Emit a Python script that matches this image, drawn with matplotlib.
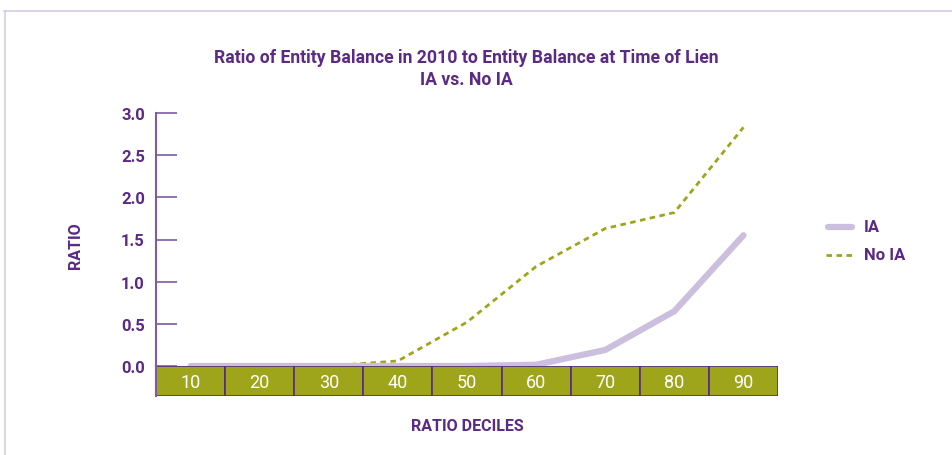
import matplotlib
matplotlib.use("Agg")
import matplotlib.pyplot as plt
from matplotlib.lines import Line2D
from matplotlib.patches import Rectangle
from matplotlib import font_manager

deciles = ["10", "20", "30", "40", "50", "60", "70", "80", "90"]
ia = [0.0, 0.0, 0.0, 0.0, 0.0, 0.015, 0.19, 0.65, 1.55]
no_ia = [0.0, 0.0, 0.0, 0.06, 0.52, 1.18, 1.63, 1.82, 2.83]
yticks = [0.0, 0.5, 1.0, 1.5, 2.0, 2.5, 3.0]

names = {f.name for f in font_manager.fontManager.ttflist}
FONT = "Liberation Sans Narrow" if "Liberation Sans Narrow" in names else "Roboto"
plt.rcParams['font.family'] = [FONT, 'DejaVu Sans']

PURPLE = "#5a2a84"
AXIS = "#7d5ba6"
GREEN = "#9fa51a"
LAV = "#cbbfdd"

W, H = 953, 456
fig = plt.figure(figsize=(W / 100, H / 100), dpi=100)

def fx(px): return px / W
def fy(py): return 1 - py / H

# frame lines
fig.add_artist(Line2D([fx(4), fx(953)], [fy(12), fy(12)], color="#d4cde3", lw=1.2))
fig.add_artist(Line2D([fx(4.5), fx(4.5)], [fy(12), fy(456)], color="#d4cde3", lw=1.2))

x0, x1 = 156, 778
ytop, ybot = 114, 367
ax = fig.add_axes([fx(x0), fy(ybot), fx(x1) - fx(x0), (ybot - ytop) / H])
xs = list(range(len(deciles)))
ax.plot(xs, ia, color=LAV, lw=4.5, solid_capstyle="round", zorder=3, clip_on=False)
ax.plot(xs, no_ia, color=GREEN, lw=2, ls=(0, (2, 1.6)), zorder=2, clip_on=False)
ax.set_xlim(-0.5, len(deciles) - 0.5)
ax.set_ylim(0, 3.0)
ax.set_yticks(yticks)
ax.set_yticklabels([f"{v:.1f}" for v in yticks])
ax.tick_params(axis="y", direction="in", length=15, width=1.2, color=AXIS,
               labelcolor=PURPLE, labelsize=12, pad=8)
for lab in ax.get_yticklabels():
    lab.set_fontweight("bold")
ax.set_xticks([])
for s in ["top", "right", "bottom"]:
    ax.spines[s].set_visible(False)
ax.spines["left"].set_color(AXIS)
ax.spines["left"].set_linewidth(1.5)
ax.patch.set_alpha(0)

# category band
bb = 397
bax = fig.add_axes([fx(x0), fy(bb), fx(x1) - fx(x0), (bb - ybot) / H])
bax.set_xlim(-0.5, len(deciles) - 0.5)
bax.set_ylim(0, 1)
for i, d in enumerate(deciles):
    bax.add_patch(Rectangle((i - 0.5, 0), 1, 1, facecolor=GREEN, edgecolor=PURPLE, lw=1.2))
    bax.text(i, 0.47, d, ha="center", va="center", color="white", fontsize=13)
bax.axis("off")
fig.add_artist(Line2D([fx(x0), fx(x0)], [fy(bb), fy(ybot)], color=AXIS, lw=1.5))

fig.text(fx(466), fy(58), "Ratio of Entity Balance in 2010 to Entity Balance at Time of Lien",
         ha="center", va="center", color=PURPLE, fontsize=12.7, fontweight="bold")
fig.text(fx(466), fy(80), "IA vs. No IA", ha="center", va="center",
         color=PURPLE, fontsize=12.7, fontweight="bold")
fig.text(fx(76), fy(246), "RATIO", ha="center", va="center", rotation=90,
         color=PURPLE, fontsize=11.5, fontweight="bold")
fig.text(fx(467), fy(427), "RATIO DECILES", ha="center", va="center",
         color=PURPLE, fontsize=11.5, fontweight="bold")

# legend
fig.add_artist(Line2D([fx(828), fx(852)], [fy(228), fy(228)], color=LAV, lw=4.5,
                      solid_capstyle="round"))
fig.add_artist(Line2D([fx(826), fx(852)], [fy(256), fy(256)], color=GREEN, lw=2,
                      ls=(0, (2, 1.6))))
fig.text(fx(864), fy(228), "IA", ha="left", va="center", color=PURPLE,
         fontsize=12, fontweight="bold")
fig.text(fx(864), fy(256), "No IA", ha="left", va="center", color=PURPLE,
         fontsize=12, fontweight="bold")

fig.savefig("out.png", dpi=100)
